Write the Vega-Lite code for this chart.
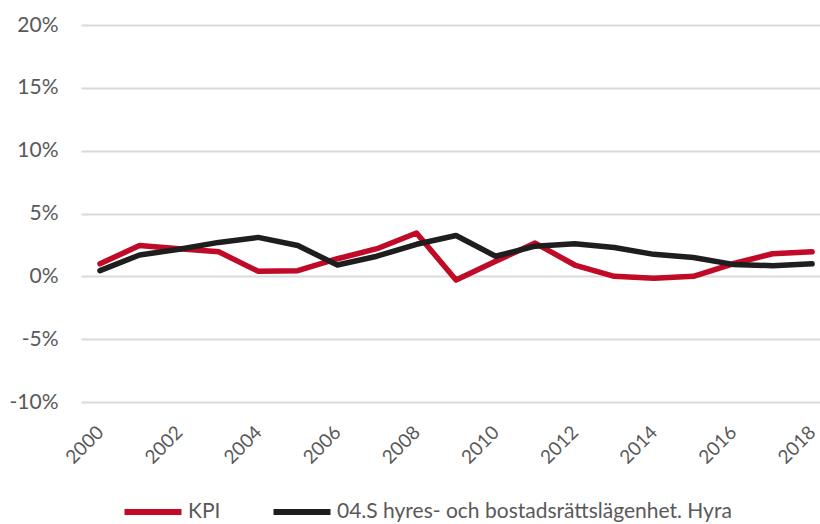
{
  "$schema": "https://vega.github.io/schema/vega-lite/v6.json",
  "autosize": {"type": "none"},
  "width": 739,
  "height": 377,
  "padding": {"left": 81, "top": 25, "right": 0, "bottom": 122},
  "background": "white",
  "config": {
    "view": {"stroke": null},
    "font": "Lato",
    "axis": {"labelFont": "Lato", "labelColor": "#595959", "domain": false, "ticks": false}
  },
  "data": {"values": [
    {"year": 2000, "series": "KPI", "value": 1.0},
    {"year": 2001, "series": "KPI", "value": 2.45},
    {"year": 2002, "series": "KPI", "value": 2.2},
    {"year": 2003, "series": "KPI", "value": 1.95},
    {"year": 2004, "series": "KPI", "value": 0.4},
    {"year": 2005, "series": "KPI", "value": 0.45},
    {"year": 2006, "series": "KPI", "value": 1.4},
    {"year": 2007, "series": "KPI", "value": 2.2},
    {"year": 2008, "series": "KPI", "value": 3.45},
    {"year": 2009, "series": "KPI", "value": -0.3},
    {"year": 2010, "series": "KPI", "value": 1.2},
    {"year": 2011, "series": "KPI", "value": 2.65},
    {"year": 2012, "series": "KPI", "value": 0.9},
    {"year": 2013, "series": "KPI", "value": 0.0},
    {"year": 2014, "series": "KPI", "value": -0.15},
    {"year": 2015, "series": "KPI", "value": 0.0},
    {"year": 2016, "series": "KPI", "value": 1.0},
    {"year": 2017, "series": "KPI", "value": 1.8},
    {"year": 2018, "series": "KPI", "value": 1.95},
    {"year": 2000, "series": "04.S hyres- och bostadsrättslägenhet. Hyra", "value": 0.45},
    {"year": 2001, "series": "04.S hyres- och bostadsrättslägenhet. Hyra", "value": 1.7},
    {"year": 2002, "series": "04.S hyres- och bostadsrättslägenhet. Hyra", "value": 2.15},
    {"year": 2003, "series": "04.S hyres- och bostadsrättslägenhet. Hyra", "value": 2.7},
    {"year": 2004, "series": "04.S hyres- och bostadsrättslägenhet. Hyra", "value": 3.1},
    {"year": 2005, "series": "04.S hyres- och bostadsrättslägenhet. Hyra", "value": 2.45},
    {"year": 2006, "series": "04.S hyres- och bostadsrättslägenhet. Hyra", "value": 0.9},
    {"year": 2007, "series": "04.S hyres- och bostadsrättslägenhet. Hyra", "value": 1.6},
    {"year": 2008, "series": "04.S hyres- och bostadsrättslägenhet. Hyra", "value": 2.55},
    {"year": 2009, "series": "04.S hyres- och bostadsrättslägenhet. Hyra", "value": 3.25},
    {"year": 2010, "series": "04.S hyres- och bostadsrättslägenhet. Hyra", "value": 1.6},
    {"year": 2011, "series": "04.S hyres- och bostadsrättslägenhet. Hyra", "value": 2.4},
    {"year": 2012, "series": "04.S hyres- och bostadsrättslägenhet. Hyra", "value": 2.6},
    {"year": 2013, "series": "04.S hyres- och bostadsrättslägenhet. Hyra", "value": 2.3},
    {"year": 2014, "series": "04.S hyres- och bostadsrättslägenhet. Hyra", "value": 1.75},
    {"year": 2015, "series": "04.S hyres- och bostadsrättslägenhet. Hyra", "value": 1.5},
    {"year": 2016, "series": "04.S hyres- och bostadsrättslägenhet. Hyra", "value": 0.95},
    {"year": 2017, "series": "04.S hyres- och bostadsrättslägenhet. Hyra", "value": 0.85},
    {"year": 2018, "series": "04.S hyres- och bostadsrättslägenhet. Hyra", "value": 1.0}
  ]},
  "mark": {"type": "line", "strokeWidth": 5.5, "strokeJoin": "round", "strokeCap": "round"},
  "encoding": {
    "x": {
      "field": "year", "type": "quantitative",
      "scale": {"domain": [1999.52, 2018.2], "nice": false, "zero": false},
      "axis": {"title": null, "grid": false, "values": [2000, 2002, 2004, 2006, 2008, 2010, 2012, 2014, 2016, 2018], "format": "d", "labelAngle": -45, "labelAlign": "right", "labelBaseline": "middle", "labelPadding": 27, "labelFontSize": 19}
    },
    "y": {
      "field": "value", "type": "quantitative",
      "scale": {"domain": [-10, 20], "nice": false},
      "axis": {"title": null, "values": [-10, -5, 0, 5, 10, 15, 20], "labelExpr": "datum.value + '%'", "grid": true, "gridColor": "#D9D9D9", "gridWidth": 2, "labelPadding": 23, "labelFontSize": 21}
    },
    "color": {
      "field": "series", "type": "nominal",
      "scale": {"domain": ["KPI", "04.S hyres- och bostadsrättslägenhet. Hyra"], "range": ["#C10A27", "#1E1E1E"]},
      "legend": {"title": null, "orient": "none", "direction": "horizontal", "legendX": 40, "legendY": 455, "symbolType": "stroke", "symbolStrokeWidth": 6, "symbolSize": 3250, "labelFontSize": 21, "labelColor": "#595959", "labelFont": "Lato", "labelLimit": 700, "columnPadding": 40, "labelOffset": 3}
    }
  }
}
